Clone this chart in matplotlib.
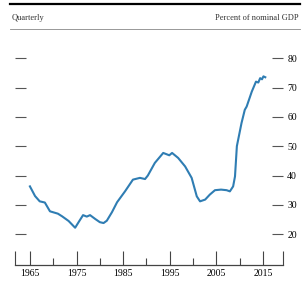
#!/usr/bin/env python3

import matplotlib.pyplot as plt
from matplotlib.lines import Line2D


# values (percent of nominal GDP)
years = [1965.0, 1966.1, 1967.1, 1968.2, 1969.3, 1971.0, 1971.9, 1973.3, 1974.7,
         1975.6, 1976.4, 1977.2, 1977.9, 1979.0, 1980.0, 1980.8, 1981.5, 1982.6,
         1983.7, 1985.4, 1987.1, 1988.6, 1989.7, 1990.3, 1991.8, 1993.6, 1994.9,
         1995.5, 1996.8, 1998.3, 1999.7, 2000.8, 2001.5, 2002.6, 2003.6, 2004.7,
         2006.0, 2007.2, 2007.9, 2008.6, 2009.0, 2009.4, 2010.4, 2011.1, 2011.5,
         2012.6, 2013.5, 2014.0, 2014.4, 2014.8, 2015.1, 2015.5]
debt = [36.3, 33.0, 31.2, 30.8, 27.8, 27.0, 26.1, 24.5, 22.2,
        24.5, 26.5, 26.0, 26.5, 25.2, 24.1, 23.8, 24.6, 27.5,
        30.9, 34.6, 38.6, 39.2, 38.8, 40.0, 44.3, 47.7, 46.9,
        47.7, 46.0, 43.1, 39.2, 32.9, 31.2, 31.8, 33.5, 35.0,
        35.2, 35.0, 34.6, 36.3, 39.7, 50.0, 57.9, 62.4, 63.5,
        68.6, 72.0, 71.7, 73.2, 72.8, 73.8, 73.5]

xticks = [1961.8, 1965, 1975, 1985, 1995, 2005, 2015, 2019.3]
xlabels = ["", "1965", "1975", "1985", "1995", "2005", "2015", ""]
xminor = [1970, 1980, 1990, 2000, 2010]
yticks = [20, 30, 40, 50, 60, 70, 80]

plt.rcParams["font.family"] = ["Liberation Serif", "DejaVu Serif"]

fig = plt.figure(figsize=(3.02, 2.83), dpi=100)
ax = fig.add_axes([0.0497, 0.0636, 0.8874, 0.7951])

ax.plot(years, debt, color="#2f7db3", linewidth=1.5, solid_joinstyle="round")

ax.set_xlim(1961.8, 2019.3)
ax.set_ylim(9.5, 86.2)

for side in ["top", "left", "right"]:
    ax.spines[side].set_visible(False)
ax.spines["bottom"].set_color("#444444")
ax.spines["bottom"].set_linewidth(0.9)

ax.set_xticks(xticks)
ax.set_xticklabels(xlabels)
ax.set_xticks(xminor, minor=True)
ax.tick_params(axis="x", which="major", direction="in", length=10, width=0.8,
               color="#444444", labelsize=7, pad=3)
ax.tick_params(axis="x", which="minor", direction="in", length=5, width=0.8,
               color="#444444")

ax.set_yticks(yticks)
ax.set_yticklabels([str(v) for v in yticks])
ax.tick_params(axis="y", which="both", direction="in", length=8, width=0.8,
               color="#555555", left=True, right=True, labelleft=False,
               labelright=True, labelsize=7, pad=3)

# header rules and captions
fig.add_artist(Line2D([0.033, 0.993], [0.986, 0.986], color="black", linewidth=1.6))
fig.add_artist(Line2D([0.033, 0.993], [0.898, 0.898], color="#888888", linewidth=0.6))
fig.text(0.04, 0.937, "Quarterly", fontsize=6, ha="left", va="center", color="#333333")
fig.text(0.99, 0.937, "Percent of nominal GDP", fontsize=6, ha="right", va="center",
         color="#333333")

fig.savefig("out.png", dpi=100)
